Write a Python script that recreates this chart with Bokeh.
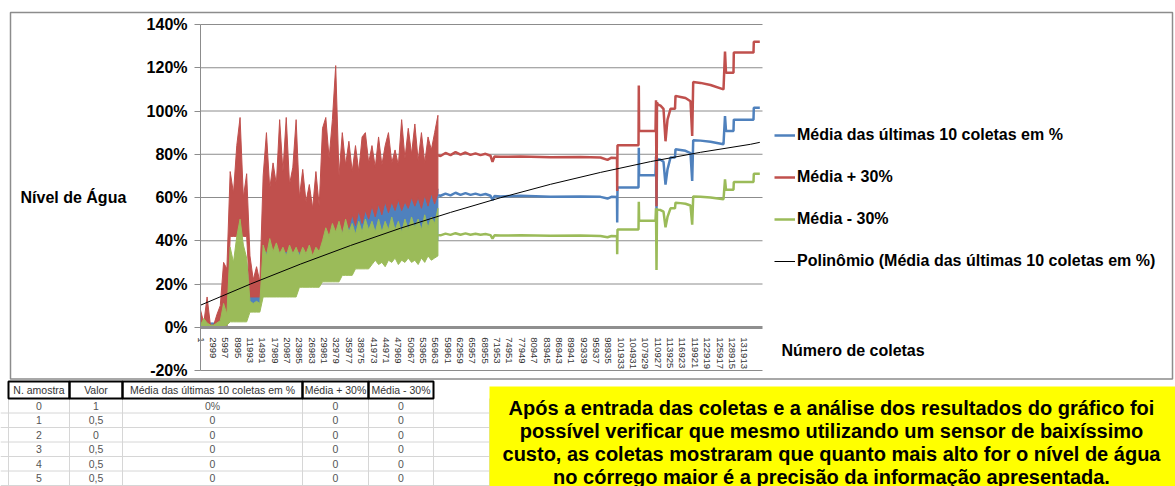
import numpy as np
from bokeh.plotting import figure
from bokeh.models import (Range1d, FixedTicker, PrintfTickFormatter, NumeralTickFormatter,
                          LinearAxis, Legend, LegendItem)
from bokeh.embed import file_html
from bokeh.resources import INLINE
from bokeh.core.properties import value

# ---------------- data ----------------
# noisy part of the record (collection number = index * NOISE_STEP), envelopes in %
NOISE_STEP = 800
red_hi = [8, 2, 14, 1, 1, 6, 10, 30, 27, 72, 62, 84, 97, 60, 71, 33, 22, 28, 21, 70,
          90, 64, 76, 66, 96, 72, 97, 66, 74, 96, 60, 73, 58, 66, 55, 72, 56, 92, 97, 78,
          96, 121, 70, 90, 75, 86, 72, 84, 72, 88, 90, 76, 84, 74, 88, 75, 84, 90, 76, 82,
          75, 96, 78, 92, 80, 94, 77, 90, 76, 88, 82, 90, 98]
red_lo = [0, 0, 0, 0, 0, 0, 0, 0, 0, 42, 42, 42, 42, 42, 42, 14, 14, 14, 14, 35,
          35, 35, 35, 35, 35, 35, 35, 35, 35, 35, 35, 33, 33, 33, 33, 33, 33, 33, 37, 37,
          37, 37, 37, 45, 50, 46, 52, 47, 54, 48, 54, 50, 56, 51, 57, 52, 58, 53, 58, 54,
          59, 54, 58, 55, 60, 56, 60, 55, 61, 56, 62, 57, 62]
green_hi = [1, 4, 2, 1, 1, 2, 3, 11, 6, 37, 30, 42, 50, 38, 32, 12, 11, 12, 11, 38,
            33, 41, 35, 39, 34, 37, 33, 38, 34, 37, 33, 37, 34, 38, 33, 37, 35, 40, 46, 42,
            48, 44, 49, 43, 50, 44, 48, 43, 49, 44, 50, 45, 49, 44, 50, 44, 49, 45, 51, 45,
            49, 44, 50, 45, 51, 46, 50, 45, 52, 46, 51, 48, 55]
green_lo = [0, 0, 0, 0, 0, 0, 0, 0, 1, 2.5, 2.5, 2.5, 2.5, 2.5, 2.5, 7, 7, 7, 7, 14,
            14, 14, 14, 14, 14, 14, 14, 14, 14, 14, 18.5, 18.5, 18.5, 18.5, 18.5, 18.5, 18.5, 21, 21, 21,
            21, 21, 21, 24, 24, 24, 24, 27, 27, 27, 27, 27, 29, 31, 29, 30, 28, 31, 30, 32,
            29, 31, 30, 32, 30, 31, 29, 32, 30, 33, 31, 32, 33]
blue_hi = [2, 2, 2, 2, 2, 2, 2, 2, 2, 30, 30, 30, 30, 30, 30, 15, 15, 15, 15, 37,
           37, 37, 37, 37, 37, 37, 37, 37, 37, 37, 37, 35, 35, 35, 35, 35, 35, 35, 40, 40,
           40, 40, 40, 48, 53, 49, 55, 50, 57, 51, 57, 53, 59, 54, 60, 55, 61, 56, 61, 57,
           62, 57, 61, 58, 63, 59, 63, 58, 64, 59, 65, 60, 64]
blue_lo = [0, 0, 0, 0, 0, 0, 0, 0, 0, 20, 20, 20, 20, 20, 20, 10, 10, 10, 10, 28,
           28, 28, 28, 28, 28, 28, 28, 28, 28, 28, 28, 28, 28, 28, 28, 28, 28, 28, 36, 36,
           36, 36, 36, 40, 40, 40, 40, 40, 40, 40, 40, 40, 40, 40, 40, 40, 40, 40, 40, 40,
           40, 40, 40, 40, 40, 40, 40, 40, 40, 40, 40, 40, 40]

# stable / stepped part of the record
step_x = [57642, 58224, 59437, 60650, 61863, 63076, 64289, 65502, 66715, 67928,
          69141, 70354, 70839, 71324, 72780, 77632, 84910, 92188, 97040, 98738,
          99709, 101043, 101091, 101164, 106259, 106331, 106404, 110383, 110504, 110626,
          110747, 110941, 111596, 112324, 112809, 113294, 114022, 115114, 115235, 116448,
          117661, 118874, 119286, 119529, 121300, 123726, 126880, 127244, 127486, 129306,
          129379, 134158, 134231, 135686]
blue_step = [61.0, 60.8, 61.8, 61.0, 62.2, 61.2, 62.0, 61.2, 61.8, 61.1,
             61.6, 60.8, 58.8, 60.7, 60.5, 60.8, 60.4, 60.5, 60.3, 59.5,
             60.3, 60.2, 48.5, 64.6, 64.6, 83.0, 70.3, 70.3, 79.0, 54.6,
             78.0, 77.7, 77.5, 76.5, 66.0, 73.0, 78.5, 78.5, 82.3, 82.0,
             81.6, 80.5, 67.7, 86.5, 86.3, 85.8, 84.6, 97.7, 90.8, 90.8,
             96.0, 96.0, 101.5, 101.5]
red_step = [79.5, 79.2, 80.6, 79.6, 81.0, 79.8, 80.8, 79.7, 80.4, 79.6,
            80.2, 79.3, 76.5, 79.0, 78.8, 79.0, 78.6, 78.7, 78.5, 77.4,
            78.4, 78.3, 63.0, 84.2, 84.2, 111.8, 90.8, 90.8, 105.0, 56.0,
            104.0, 103.0, 102.5, 101.0, 86.0, 96.0, 101.0, 101.0, 107.0, 106.5,
            106.0, 104.5, 88.5, 113.4, 113.0, 112.0, 110.0, 127.5, 117.7, 117.7,
            127.0, 127.0, 132.0, 132.0]
green_step = [42.6, 42.5, 43.3, 42.7, 43.5, 42.8, 43.4, 42.8, 43.2, 42.8,
              43.1, 42.6, 41.0, 42.5, 42.4, 42.5, 42.3, 42.4, 42.2, 41.6,
              42.2, 42.1, 33.8, 45.2, 45.2, 58.0, 49.2, 49.2, 55.0, 26.5,
              54.6, 54.4, 54.2, 53.5, 46.2, 51.0, 55.0, 55.0, 57.6, 57.4,
              57.1, 56.3, 47.4, 60.5, 60.4, 60.0, 59.2, 68.4, 63.6, 63.6,
              67.2, 67.2, 71.0, 71.0]

# trend line (polynomial)
poly_x = [0, 12130, 24260, 36390, 48520, 60650, 72780, 84910, 97040, 109170, 121300, 133430, 135686]
poly_y = [10.2, 20.0, 29.2, 37.8, 45.8, 53.1, 59.9, 66.1, 71.6, 76.6, 80.9, 84.6, 85.5]

x_ticks = [1, 2999, 5997, 8995, 11993, 14991, 17989, 20987, 23985, 26983, 29981, 32979,
           35977, 38975, 41973, 44971, 47969, 50967, 53965, 56963, 59961, 62959, 65957,
           68955, 71953, 74951, 77949, 80947, 83945, 86943, 89941, 92939, 95937, 98935,
           101933, 104931, 107929, 110927, 113925, 116923, 119921, 122919, 125917, 128915,
           131913]
y_ticks = [-20, 0, 20, 40, 60, 80, 100, 120, 140]
X_MAX = 136340  # end of the category axis

series_names = ["Média das últimas 10 coletas em %", "Média + 30%", "Média - 30%",
                "Polinômio (Média das últimas 10 coletas em %)"]

table_header = ["N. amostra", "Valor", "Média das últimas 10 coletas em %", "Média + 30%", "Média - 30%"]
t_amostra = ["0", "1", "2", "3", "4", "5"]
t_valor = ["1", "0,5", "0", "0,5", "0,5", "0,5"]
t_media = ["0%", "0", "0", "0", "0", "0"]
t_mais = ["0", "0", "0", "0", "0", "0"]
t_menos = ["0", "0", "0", "0", "0", "0"]

note_lines = ["Após a entrada das coletas e a análise dos resultados do gráfico foi",
              "possível verificar que mesmo utilizando um sensor de baixíssimo",
              "custo, as coletas mostraram que quanto mais alto for o nível de água",
              "no córrego maior é a precisão da informação apresentada."]

# ---------------- layout (pixels of the page) ----------------
W, H = 1175, 486
PL, PR, PT, PB = 200, 762, 24, 370          # plot area
BLUE, RED, GREEN = "#4F81BD", "#C0504D", "#9BBB59"
GRID = "#8c8c8c"
FONT = "Liberation Sans"

xs_per_px = X_MAX / (PR - PL)
ys_per_px = (y_ticks[-1] - y_ticks[0]) / (PB - PT)
x_range = Range1d(-PL * xs_per_px, X_MAX + (W - PR) * xs_per_px)
y_range = Range1d(y_ticks[0] - (H - PB) * ys_per_px, y_ticks[-1] + PT * ys_per_px)

p = figure(width=W, height=H, x_range=x_range, y_range=y_range,
           x_axis_location=None, y_axis_location=None, min_border=0,
           toolbar_location=None, output_backend="svg")
p.extra_x_ranges = {"px": Range1d(0, W)}
p.extra_y_ranges = {"px": Range1d(H, 0)}
p.grid.visible = False
p.outline_line_color = None
p.background_fill_color = "white"
p.border_fill_color = "white"
PX = dict(x_range_name="px", y_range_name="px")

# chart area border
p.quad(left=[10], right=[1172], top=[12], bottom=[378.5], fill_color=None,
       line_color="#8c8c8c", line_width=1.5, **PX)

# horizontal gridlines (at the y ticks, across the category axis)
gy = [t for t in y_ticks if t != 0]
p.segment(x0=[0] * len(gy), x1=[X_MAX] * len(gy), y0=gy, y1=gy, line_color=GRID, line_width=1)

nx = np.arange(len(red_hi)) * NOISE_STEP


def band(hi, lo):
    xs = np.concatenate([nx, nx[::-1]])
    ys = np.concatenate([np.array(hi, float), np.array(lo, float)[::-1]])
    return xs, ys


bx, by = band(blue_hi, blue_lo)
p.patch(bx, by, fill_color=BLUE, line_color=BLUE, line_width=1)
r_blue = p.line(step_x, blue_step, line_color=BLUE, line_width=2.5)
rx, ry = band(red_hi, red_lo)
p.patch(rx, ry, fill_color=RED, line_color=RED, line_width=1)
r_red = p.line(step_x, red_step, line_color=RED, line_width=2.5)
gx, gy2 = band(green_hi, green_lo)
p.patch(gx, gy2, fill_color=GREEN, line_color=GREEN, line_width=1)
r_green = p.line(step_x, green_step, line_color=GREEN, line_width=2.5)
r_poly = p.line(poly_x, poly_y, line_color="black", line_width=1)

# axes
xaxis = LinearAxis(fixed_location=0, bounds=(0, X_MAX), ticker=FixedTicker(ticks=x_ticks),
                   formatter=NumeralTickFormatter(format="0"),
                   major_label_orientation="vertical", major_label_text_font=FONT,
                   major_label_text_font_size="9.5px", major_label_text_color="#333333",
                   major_label_standoff=4, major_tick_line_color=None, minor_tick_line_color=None,
                   axis_line_color="#8f8f8f", axis_line_width=3)
p.add_layout(xaxis, "below")
yaxis = LinearAxis(fixed_location=0, bounds=(y_ticks[0], y_ticks[-1]),
                   ticker=FixedTicker(ticks=y_ticks), formatter=PrintfTickFormatter(format="%d%%"),
                   major_label_text_font=FONT, major_label_text_font_style="bold",
                   major_label_text_font_size="16px", major_label_text_color="black",
                   major_tick_out=6, major_tick_in=0, major_label_standoff=7,
                   axis_line_color=GRID, major_tick_line_color=GRID, minor_tick_line_color=None)
p.add_layout(yaxis, "left")

# legend (lower-left corner given in pixels from the bottom-left of the frame)
legend = Legend(items=[LegendItem(label=series_names[0], renderers=[r_blue]),
                       LegendItem(label=series_names[1], renderers=[r_red]),
                       LegendItem(label=series_names[2], renderers=[r_green]),
                       LegendItem(label=series_names[3], renderers=[r_poly])],
                location=(774, H - 271), orientation="vertical",
                label_text_font=FONT, label_text_font_style="bold", label_text_font_size="16px",
                label_text_color="black", glyph_width=21, glyph_height=20, label_height=20,
                label_standoff=2, spacing=22, padding=0, margin=0,
                border_line_color=None, background_fill_alpha=0)
p.add_layout(legend)

p.text(x=[20, 781], y=[197, 350], text=["Nível de Água", "Número de coletas"],
       text_font=value(FONT), text_font_style="bold", text_font_size=value("16px"),
       text_baseline="middle", text_color="black", **PX)

# ---------------- sheet table ----------------
col_edges = [8, 69, 122, 302, 368, 433]
sheet_right = 489
head_top, head_bot, row_h = 381, 398, 14.5
n_rows = len(t_amostra)

h_y = [head_bot + row_h * (k + 1) for k in range(n_rows)]
p.segment(x0=[0] * n_rows, x1=[sheet_right] * n_rows, y0=h_y, y1=h_y,
          line_color="#d6d6d6", line_width=1, **PX)
v_x = col_edges + [sheet_right]
p.segment(x0=v_x, x1=v_x, y0=[head_bot] * len(v_x), y1=[H] * len(v_x),
          line_color="#d6d6d6", line_width=1, **PX)

p.quad(left=col_edges[:-1], right=col_edges[1:], top=[head_top] * 5, bottom=[head_bot] * 5,
       fill_color=None, line_color="black", line_width=2, **PX)
centers = [(a + b) / 2 for a, b in zip(col_edges[:-1], col_edges[1:])]
p.text(x=centers, y=[(head_top + head_bot) / 2] * 5, text=table_header, text_align="center",
       text_baseline="middle", text_font=value(FONT), text_font_size=value("10.5px"),
       text_color="#333333", **PX)
row_y = [head_bot + row_h * (k + 0.5) for k in range(n_rows)]
for ci, colvals in enumerate([t_amostra, t_valor, t_media, t_mais, t_menos]):
    p.text(x=[centers[ci]] * n_rows, y=row_y, text=colvals, text_align="center",
           text_baseline="middle", text_font=value(FONT), text_font_size=value("10.5px"),
           text_color="#555555", **PX)

# ---------------- yellow note ----------------
p.quad(left=[489], right=[W], top=[386], bottom=[H], fill_color="#FFFF00",
       line_color=None, **PX)
p.text(x=[831] * 4, y=[407.5, 430.5, 453.5, 476], text=note_lines, text_align="center",
       text_baseline="middle", text_font=value(FONT), text_font_style="bold",
       text_font_size=value("20px"), text_color="black", **PX)

open("out.html", "w").write(file_html(p, INLINE))
